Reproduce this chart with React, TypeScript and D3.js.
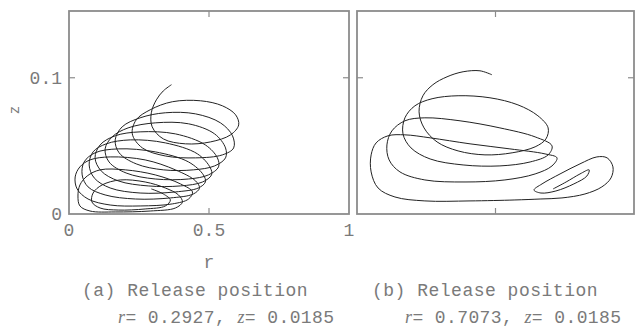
import React, { useEffect, useRef } from 'react';
import * as d3 from 'd3';

// particle track, case (a): [r, z]
const trackA: [number, number][] = [
  [0.294, 0.0184], [0.337, 0.0147], [0.362, 0.0103], [0.344, 0.0059], [0.272, 0.0037],
  [0.176, 0.0029], [0.111, 0.0044], [0.082, 0.0088], [0.086, 0.0154], [0.118, 0.0213],
  [0.183, 0.025], [0.272, 0.0235], [0.344, 0.0191], [0.391, 0.014], [0.405, 0.0088],
  [0.38, 0.0044], [0.29, 0.0022], [0.165, 0.0015], [0.075, 0.0022], [0.039, 0.0059],
  [0.032, 0.0132], [0.039, 0.0213], [0.065, 0.0279], [0.111, 0.0324], [0.201, 0.0324],
  [0.308, 0.0287], [0.398, 0.0221], [0.441, 0.0162],
  [0.427, 0.011], [0.369, 0.0074], [0.254, 0.0059], [0.147, 0.0066], [0.068, 0.011],
  [0.029, 0.0184], [0.022, 0.0272], [0.039, 0.0346], [0.075, 0.0397], [0.147, 0.0419],
  [0.272, 0.0397], [0.38, 0.0324], [0.452, 0.0243], [0.466, 0.0191],
  [0.444, 0.0147], [0.362, 0.0118], [0.237, 0.011], [0.129, 0.014], [0.068, 0.0199],
  [0.047, 0.0287], [0.054, 0.0382], [0.093, 0.0449], [0.176, 0.0478], [0.308, 0.0456],
  [0.427, 0.0382], [0.48, 0.0287], [0.487, 0.0235],
  [0.462, 0.0191], [0.38, 0.0162], [0.254, 0.0154], [0.147, 0.0191], [0.09, 0.0265],
  [0.072, 0.036], [0.086, 0.0456], [0.133, 0.0515], [0.219, 0.0544], [0.344, 0.0522],
  [0.459, 0.0441], [0.505, 0.0338], [0.509, 0.0287],
  [0.477, 0.0235], [0.398, 0.0206], [0.283, 0.0206], [0.176, 0.0243], [0.115, 0.0316],
  [0.093, 0.0412], [0.111, 0.0507], [0.165, 0.0574], [0.254, 0.0603], [0.38, 0.0588],
  [0.487, 0.0507], [0.53, 0.0412], [0.534, 0.0346],
  [0.498, 0.0287], [0.427, 0.0257], [0.308, 0.0257], [0.204, 0.0301], [0.143, 0.0382],
  [0.129, 0.0478], [0.154, 0.0566], [0.211, 0.0632], [0.308, 0.0669], [0.427, 0.0662],
  [0.52, 0.0588], [0.559, 0.0485], [0.559, 0.0412],
  [0.52, 0.0353], [0.444, 0.0324], [0.337, 0.0324], [0.24, 0.0368], [0.179, 0.0449],
  [0.165, 0.0544], [0.19, 0.064], [0.254, 0.0706], [0.344, 0.0743], [0.452, 0.0735],
  [0.541, 0.0669], [0.584, 0.0574], [0.588, 0.0485],
  [0.548, 0.0434], [0.452, 0.0412], [0.344, 0.0426], [0.262, 0.0485],
  [0.226, 0.0588], [0.24, 0.0691], [0.29, 0.0765], [0.369, 0.0824], [0.47, 0.0831],
  [0.548, 0.0794], [0.595, 0.0728], [0.606, 0.0654], [0.577, 0.0581], [0.505, 0.0529],
  [0.416, 0.0515], [0.337, 0.0551], [0.297, 0.064], [0.294, 0.0743], [0.312, 0.0838],
  [0.337, 0.0904], [0.366, 0.0949],
];

// particle track, case (b): [r, z]
const trackB: [number, number][] = [
  [0.708, 0.0184], [0.755, 0.0235], [0.805, 0.0294], [0.838, 0.0324], [0.83, 0.0279],
  [0.783, 0.0221], [0.718, 0.0169], [0.664, 0.0154], [0.639, 0.0176], [0.668, 0.0221],
  [0.733, 0.0294], [0.805, 0.0368], [0.866, 0.0419], [0.903, 0.0412], [0.924, 0.0346],
  [0.917, 0.0265], [0.884, 0.0199], [0.823, 0.0147], [0.74, 0.0118], [0.661, 0.011],
  [0.57, 0.0103], [0.408, 0.0096], [0.245, 0.0096], [0.137, 0.0125], [0.076, 0.0191],
  [0.051, 0.0309], [0.051, 0.0434], [0.069, 0.0522], [0.112, 0.0574], [0.173, 0.0581],
  [0.264, 0.0559], [0.408, 0.0515], [0.552, 0.0478], [0.679, 0.0441], [0.722, 0.0412],
  [0.704, 0.0353], [0.643, 0.0294], [0.534, 0.025], [0.39, 0.0235], [0.245, 0.025],
  [0.155, 0.0309], [0.116, 0.0397], [0.108, 0.0507], [0.126, 0.061], [0.173, 0.0684],
  [0.245, 0.0706], [0.372, 0.0684], [0.516, 0.0632], [0.643, 0.0566], [0.704, 0.05],
  [0.69, 0.0434], [0.625, 0.0382], [0.516, 0.0353], [0.383, 0.036], [0.264, 0.0404],
  [0.195, 0.0485], [0.166, 0.0588], [0.173, 0.0706], [0.209, 0.0794], [0.271, 0.0846],
  [0.365, 0.0868], [0.48, 0.0853], [0.581, 0.0801], [0.653, 0.0721], [0.69, 0.0632],
  [0.682, 0.0551], [0.643, 0.0493], [0.56, 0.0449], [0.462, 0.0434], [0.365, 0.0463],
  [0.289, 0.0529], [0.242, 0.0632], [0.224, 0.075], [0.238, 0.0868], [0.274, 0.0949],
  [0.325, 0.1007], [0.383, 0.1044], [0.444, 0.1051], [0.487, 0.1022],
];

const xTicks = [0, 0.5, 1];
const xTickLabels = ['0', '0.5', '1'];
const yTicks = [0, 0.1];
const yTickLabels = ['0', '0.1'];
const captionTitles = ['(a) Release position', '(b) Release position'];
const releaseR = ['0.2927', '0.7073'];
const releaseZ = ['0.0185', '0.0185'];

const W = 637;
const H = 328;
const mono = '"Liberation Mono", "DejaVu Sans Mono", monospace';
const frameGray = '#8c8c8c';
const textGray = '#7a7a7a';

const App = () => {
  const svgRef = useRef<SVGSVGElement>(null);

  useEffect(() => {
    const svg = d3.select(svgRef.current);
    svg.selectAll('*').remove();

    const y = d3.scaleLinear().domain([0, 0.149]).range([214, 11]);
    const panels = [
      { x: d3.scaleLinear().domain([0, 1]).range([69, 349]), track: trackA, labels: true },
      { x: d3.scaleLinear().domain([0, 1]).range([357, 634]), track: trackB, labels: false },
    ];

    panels.forEach((p, i) => {
      const g = svg.append('g');
      const [x0, x1] = p.x.range();
      const [yb, yt] = y.range();

      // trajectory
      const line = d3.line<[number, number]>()
        .curve(d3.curveCatmullRom.alpha(0.5))
        .x(d => p.x(d[0]))
        .y(d => y(d[1]));
      g.append('path')
        .attr('d', line(p.track))
        .attr('fill', 'none')
        .attr('stroke', '#222')
        .attr('stroke-width', 1)
        .attr('stroke-linejoin', 'round');

      // frame
      g.append('rect')
        .attr('x', x0).attr('y', yt)
        .attr('width', x1 - x0).attr('height', yb - yt)
        .attr('fill', 'none')
        .attr('stroke', frameGray)
        .attr('stroke-width', 1.8);

      // inward ticks
      const tk = 6;
      const ticks = [
        [p.x(0.5), yb, p.x(0.5), yb - tk],
        [p.x(0.5), yt, p.x(0.5), yt + tk],
        [x0, y(0.1), x0 + tk, y(0.1)],
        [x1, y(0.1), x1 - tk, y(0.1)],
      ];
      g.append('g').selectAll('line')
        .data(ticks)
        .join('line')
        .attr('x1', d => d[0]).attr('y1', d => d[1])
        .attr('x2', d => d[2]).attr('y2', d => d[3])
        .attr('stroke', frameGray).attr('stroke-width', 1.2);

      if (p.labels) {
        g.append('g').selectAll('text')
          .data(xTicks)
          .join('text')
          .attr('x', d => p.x(d))
          .attr('y', 236)
          .attr('text-anchor', 'middle')
          .attr('font-family', mono).attr('font-size', 18).attr('fill', textGray)
          .text((d, j) => xTickLabels[j]);
        g.append('g').selectAll('text')
          .data(yTicks)
          .join('text')
          .attr('x', 62)
          .attr('y', d => y(d) + 6)
          .attr('text-anchor', 'end')
          .attr('font-family', mono).attr('font-size', 18).attr('fill', textGray)
          .text((d, j) => yTickLabels[j]);
        g.append('text')
          .attr('x', p.x(0.5)).attr('y', 268)
          .attr('text-anchor', 'middle')
          .attr('font-family', mono).attr('font-size', 18).attr('fill', textGray)
          .text('r');
        g.append('text')
          .attr('transform', 'translate(19,110) rotate(-90)')
          .attr('text-anchor', 'middle')
          .attr('font-family', mono).attr('font-size', 14).attr('fill', textGray)
          .text('z');
      }

      // captions
      const cx = [82, 372][i];
      const cx2 = [118, 405][i];
      g.append('text')
        .attr('x', cx).attr('y', 296)
        .attr('font-family', mono).attr('font-size', 18).attr('letter-spacing', 0.5).attr('fill', textGray)
        .text(captionTitles[i]);
      const t2 = g.append('text')
        .attr('x', cx2).attr('y', 323)
        .attr('font-family', mono).attr('font-size', 18).attr('letter-spacing', 0.4).attr('fill', textGray);
      t2.append('tspan').attr('font-style', 'italic').attr('font-family', 'Liberation Serif, serif').text('r');
      t2.append('tspan').text('= ' + releaseR[i] + ', ');
      t2.append('tspan').attr('font-style', 'italic').attr('font-family', 'Liberation Serif, serif').text('z');
      t2.append('tspan').text('= ' + releaseZ[i]);
    });
  }, []);

  return (
    <svg ref={svgRef} width={W} height={H}
      style={{ position: 'absolute', left: 0, top: 0, background: '#fff' }} />
  );
};

export default App;
